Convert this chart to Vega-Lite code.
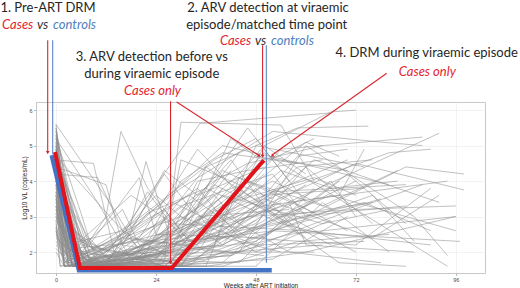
{
"$schema": "https://vega.github.io/schema/vega-lite/v6.json",
"width": 449, "height": 171,
"autosize": "none",
"padding": {"left": 36, "top": 102, "right": 35, "bottom": 15},
"background": "white",
"config": {
  "view": {"stroke": "#c8c8c8", "strokeWidth": 1},
  "axis": {"grid": true, "gridColor": "#ebebeb", "gridWidth": 0.6, "domain": false, "tickColor": "#8a8a8a", "tickSize": 2.5, "tickWidth": 0.6, "labelFont": "Liberation Sans", "labelFontSize": 5.5, "labelColor": "#4d4d4d", "labelPadding": 1.5, "titleFont": "Liberation Sans", "titleFontSize": 6.5, "titleFontWeight": "normal", "titleColor": "#222222"}
},
"resolve": {"scale": {"color": "independent"}},
"datasets": {
"traj": [
{"id":1,"w":0,"v":5.6},{"id":1,"w":3,"v":2.4},{"id":1,"w":10,"v":1.6},{"id":1,"w":30,"v":3.3},{"id":1,"w":52,"v":4.2},{"id":1,"w":60,"v":3.0},
{"id":2,"w":0,"v":5.3},{"id":2,"w":5,"v":1.7},{"id":2,"w":24,"v":1.6},{"id":2,"w":40,"v":4.3},{"id":2,"w":62,"v":3.1},
{"id":3,"w":0,"v":5.0},{"id":3,"w":2,"v":2.9},{"id":3,"w":8,"v":1.6},{"id":3,"w":36,"v":2.9},{"id":3,"w":70,"v":4.6},
{"id":4,"w":0,"v":4.6},{"id":4,"w":9,"v":4.5},{"id":4,"w":14,"v":2.0},{"id":4,"w":26,"v":1.6},{"id":4,"w":48,"v":3.8},{"id":4,"w":58,"v":2.6},
{"id":5,"w":0,"v":4.5},{"id":5,"w":5,"v":1.8},{"id":5,"w":20,"v":2.4},{"id":5,"w":34,"v":4.9},{"id":5,"w":45,"v":3.5},{"id":5,"w":66,"v":2.2},
{"id":6,"w":0,"v":4.2},{"id":6,"w":4,"v":1.6},{"id":6,"w":12,"v":3.0},{"id":6,"w":15.6,"v":5.4},{"id":6,"w":22,"v":3.8},{"id":6,"w":30,"v":2.6},{"id":6,"w":40,"v":3.4},
{"id":7,"w":0,"v":4.1},{"id":7,"w":6,"v":1.9},{"id":7,"w":18,"v":2.8},{"id":7,"w":21.6,"v":4.55},{"id":7,"w":28,"v":2.2},{"id":7,"w":44,"v":3.1},
{"id":8,"w":0,"v":3.9},{"id":8,"w":3,"v":1.6},{"id":8,"w":26,"v":1.7},{"id":8,"w":30,"v":5.66},{"id":8,"w":54,"v":5.58},{"id":8,"w":62,"v":4.0},
{"id":9,"w":0,"v":3.7},{"id":9,"w":5,"v":2.0},{"id":9,"w":10,"v":1.6},{"id":9,"w":34.6,"v":5.63},{"id":9,"w":65.8,"v":5.92},
{"id":10,"w":0,"v":3.5},{"id":10,"w":2,"v":1.7},{"id":10,"w":18,"v":2.6},{"id":10,"w":40,"v":5.0},{"id":10,"w":55,"v":4.6},{"id":10,"w":80,"v":3.9},
{"id":11,"w":0,"v":5.4},{"id":11,"w":4,"v":3.0},{"id":11,"w":8,"v":1.8},{"id":11,"w":40,"v":2.2},{"id":11,"w":58,"v":4.7},{"id":11,"w":70,"v":4.9},
{"id":12,"w":0,"v":4.8},{"id":12,"w":6,"v":2.3},{"id":12,"w":16,"v":1.6},{"id":12,"w":44,"v":3.6},{"id":12,"w":50,"v":5.0},{"id":12,"w":60,"v":4.2},
{"id":13,"w":0,"v":4.4},{"id":13,"w":2,"v":2.0},{"id":13,"w":12,"v":1.6},{"id":13,"w":22,"v":3.7},{"id":13,"w":32,"v":2.1},{"id":13,"w":50,"v":1.9},
{"id":14,"w":0,"v":3.2},{"id":14,"w":4,"v":1.6},{"id":14,"w":30,"v":1.6},{"id":14,"w":48,"v":4.4},{"id":14,"w":62,"v":5.2},
{"id":15,"w":0,"v":3.0},{"id":15,"w":3,"v":1.8},{"id":15,"w":24,"v":2.0},{"id":15,"w":38,"v":3.9},{"id":15,"w":54,"v":3.0},{"id":15,"w":76,"v":3.4},
{"id":16,"w":0,"v":2.8},{"id":16,"w":2,"v":1.6},{"id":16,"w":18,"v":1.7},{"id":16,"w":36,"v":4.4},{"id":16,"w":46,"v":3.6},{"id":16,"w":72,"v":2.0},
{"id":17,"w":0,"v":2.5},{"id":17,"w":4,"v":1.6},{"id":17,"w":20,"v":1.6},{"id":17,"w":28,"v":3.4},{"id":17,"w":42,"v":2.6},{"id":17,"w":60,"v":3.9},
{"id":18,"w":0,"v":2.2},{"id":18,"w":6,"v":1.6},{"id":18,"w":32,"v":1.7},{"id":18,"w":52,"v":3.2},{"id":18,"w":92,"v":5.35},
{"id":19,"w":0,"v":5.1},{"id":19,"w":3,"v":2.5},{"id":19,"w":14,"v":1.8},{"id":19,"w":26,"v":4.2},{"id":19,"w":33,"v":3.1},{"id":19,"w":44,"v":4.8},
{"id":20,"w":0,"v":4.7},{"id":20,"w":8,"v":2.2},{"id":20,"w":20,"v":4.1},{"id":20,"w":24,"v":2.5},{"id":20,"w":50,"v":2.4},{"id":20,"w":68,"v":4.0},
{"id":21,"w":0,"v":4.3},{"id":21,"w":1.5,"v":2.2},{"id":21,"w":10,"v":1.6},{"id":21,"w":32,"v":2.8},{"id":21,"w":42,"v":5.2},{"id":21,"w":48,"v":4.7},{"id":21,"w":70,"v":4.3},
{"id":22,"w":0,"v":4.0},{"id":22,"w":5,"v":1.7},{"id":22,"w":22,"v":1.8},{"id":22,"w":40,"v":3.0},{"id":22,"w":54,"v":4.9},{"id":22,"w":88,"v":5.24},
{"id":23,"w":0,"v":3.6},{"id":23,"w":3,"v":2.1},{"id":23,"w":14,"v":1.6},{"id":23,"w":46,"v":4.0},{"id":23,"w":64,"v":3.3},{"id":23,"w":82,"v":4.3},
{"id":24,"w":0,"v":3.3},{"id":24,"w":2,"v":1.6},{"id":24,"w":26,"v":2.2},{"id":24,"w":30,"v":4.6},{"id":24,"w":52,"v":3.5},
{"id":25,"w":0,"v":5.5},{"id":25,"w":5,"v":2.0},{"id":25,"w":9,"v":1.6},{"id":25,"w":28,"v":2.0},{"id":25,"w":36,"v":4.4},{"id":25,"w":58,"v":5.5},{"id":25,"w":75,"v":5.55},
{"id":26,"w":0,"v":4.9},{"id":26,"w":4,"v":2.6},{"id":26,"w":12,"v":2.0},{"id":26,"w":24,"v":3.6},{"id":26,"w":30,"v":3.0},{"id":26,"w":48,"v":2.2},{"id":26,"w":74,"v":2.3},
{"id":27,"w":0,"v":4.5},{"id":27,"w":7,"v":1.6},{"id":27,"w":30,"v":1.6},{"id":27,"w":38,"v":3.2},{"id":27,"w":56,"v":2.0},{"id":27,"w":78,"v":1.7},
{"id":28,"w":0,"v":4.2},{"id":28,"w":2,"v":1.9},{"id":28,"w":18,"v":3.6},{"id":28,"w":28,"v":2.8},{"id":28,"w":60,"v":2.6},{"id":28,"w":90,"v":2.2},
{"id":29,"w":0,"v":3.8},{"id":29,"w":6,"v":2.8},{"id":29,"w":11,"v":1.6},{"id":29,"w":44,"v":2.5},{"id":29,"w":66,"v":3.6},{"id":29,"w":96,"v":2.6},
{"id":30,"w":0,"v":3.4},{"id":30,"w":4,"v":2.0},{"id":30,"w":20,"v":1.8},{"id":30,"w":48,"v":2.8},{"id":30,"w":60,"v":4.4},{"id":30,"w":76,"v":2.8},
{"id":31,"w":0,"v":2.9},{"id":31,"w":1,"v":1.6},{"id":31,"w":14,"v":2.2},{"id":31,"w":22,"v":1.6},{"id":31,"w":40,"v":3.6},{"id":31,"w":64,"v":2.8},{"id":31,"w":80,"v":3.2},
{"id":32,"w":0,"v":5.2},{"id":32,"w":2,"v":3.5},{"id":32,"w":7,"v":1.6},{"id":32,"w":34,"v":3.8},{"id":32,"w":44,"v":2.4},{"id":32,"w":72,"v":4.0},
{"id":33,"w":0,"v":4.6},{"id":33,"w":5,"v":2.4},{"id":33,"w":15,"v":1.9},{"id":33,"w":36,"v":3.0},{"id":33,"w":52,"v":4.0},{"id":33,"w":66,"v":3.2},
{"id":34,"w":0,"v":4.4},{"id":34,"w":3,"v":1.6},{"id":34,"w":24,"v":2.3},{"id":34,"w":42,"v":4.6},{"id":34,"w":50,"v":3.3},{"id":34,"w":68,"v":3.6},{"id":34,"w":74,"v":4.9},
{"id":35,"w":0,"v":4.1},{"id":35,"w":8,"v":2.0},{"id":35,"w":28,"v":2.6},{"id":35,"w":34,"v":4.0},{"id":35,"w":46,"v":4.3},{"id":35,"w":64,"v":4.6},
{"id":36,"w":0,"v":3.9},{"id":36,"w":2,"v":1.7},{"id":36,"w":16,"v":3.2},{"id":36,"w":20,"v":2.2},{"id":36,"w":38,"v":2.4},{"id":36,"w":52,"v":3.7},{"id":36,"w":84,"v":3.9},
{"id":37,"w":0,"v":3.6},{"id":37,"w":4,"v":1.6},{"id":37,"w":40,"v":1.7},{"id":37,"w":56,"v":3.4},{"id":37,"w":60,"v":2.2},{"id":37,"w":86,"v":2.0},
{"id":38,"w":0,"v":3.1},{"id":38,"w":3,"v":2.3},{"id":38,"w":10,"v":1.6},{"id":38,"w":48,"v":3.2},{"id":38,"w":72,"v":4.5},{"id":38,"w":98,"v":3.75},
{"id":39,"w":0,"v":2.6},{"id":39,"w":2,"v":1.6},{"id":39,"w":34,"v":2.0},{"id":39,"w":42,"v":3.4},{"id":39,"w":62,"v":4.1},{"id":39,"w":72,"v":3.6},
{"id":40,"w":0,"v":2.3},{"id":40,"w":5,"v":1.6},{"id":40,"w":36,"v":1.6},{"id":40,"w":48,"v":5.0},{"id":40,"w":74,"v":4.4},
{"id":41,"w":0,"v":5.0},{"id":41,"w":6,"v":2.0},{"id":41,"w":12,"v":1.6},{"id":41,"w":26,"v":2.6},{"id":41,"w":38,"v":3.6},{"id":41,"w":44,"v":2.8},{"id":41,"w":54,"v":3.4},
{"id":42,"w":0,"v":4.7},{"id":42,"w":4,"v":2.1},{"id":42,"w":30,"v":2.4},{"id":42,"w":50,"v":4.8},{"id":42,"w":94,"v":1.6},
{"id":43,"w":0,"v":4.3},{"id":43,"w":3,"v":1.7},{"id":43,"w":18,"v":1.6},{"id":43,"w":32,"v":3.4},{"id":43,"w":36,"v":2.8},{"id":43,"w":60,"v":5.1},{"id":43,"w":68,"v":4.7},
{"id":44,"w":0,"v":3.7},{"id":44,"w":9,"v":1.6},{"id":44,"w":42,"v":1.9},{"id":44,"w":58,"v":3.0},{"id":44,"w":84,"v":3.3},
{"id":45,"w":0,"v":3.0},{"id":45,"w":4,"v":1.9},{"id":45,"w":30,"v":3.0},{"id":45,"w":40,"v":2.2},{"id":45,"w":62,"v":3.5},{"id":45,"w":94,"v":4.0},
{"id":46,"w":0,"v":5.3},{"id":46,"w":3,"v":2.8},{"id":46,"w":12,"v":1.7},{"id":46,"w":20,"v":3.0},{"id":46,"w":26,"v":4.3},{"id":46,"w":34,"v":3.6},{"id":46,"w":50,"v":4.4},
{"id":47,"w":0,"v":4.8},{"id":47,"w":2,"v":2.4},{"id":47,"w":9,"v":1.6},{"id":47,"w":24,"v":1.8},{"id":47,"w":46,"v":5.5},{"id":47,"w":56,"v":4.0},
{"id":48,"w":0,"v":4.0},{"id":48,"w":5,"v":1.6},{"id":48,"w":38,"v":2.2},{"id":48,"w":44,"v":4.1},{"id":48,"w":54,"v":3.6},{"id":48,"w":70,"v":2.6},
{"id":49,"w":0,"v":3.5},{"id":49,"w":7,"v":1.7},{"id":49,"w":26,"v":3.2},{"id":49,"w":32,"v":2.3},{"id":49,"w":52,"v":2.6},{"id":49,"w":78,"v":3.5},
{"id":50,"w":0,"v":2.7},{"id":50,"w":1,"v":1.6},{"id":50,"w":24,"v":1.9},{"id":50,"w":44,"v":3.8},{"id":50,"w":60,"v":2.4},
{"id":51,"w":0,"v":2.4},{"id":51,"w":8,"v":1.6},{"id":51,"w":40,"v":1.6},{"id":51,"w":58,"v":2.3},{"id":51,"w":80,"v":2.5},
{"id":52,"w":0,"v":3.3},{"id":52,"w":4,"v":1.6},{"id":52,"w":16,"v":2.0},{"id":52,"w":26,"v":1.6},{"id":52,"w":52,"v":1.8},{"id":52,"w":70,"v":3.0},
{"id":53,"w":0,"v":4.5},{"id":53,"w":3,"v":2.2},{"id":53,"w":6,"v":1.6},{"id":53,"w":18,"v":2.4},{"id":53,"w":42,"v":2.0},{"id":53,"w":64,"v":2.2},
{"id":54,"w":0,"v":2.0},{"id":54,"w":2,"v":1.6},{"id":54,"w":12,"v":1.8},{"id":54,"w":28,"v":1.6},{"id":54,"w":56,"v":2.5},{"id":54,"w":96,"v":3.0},
{"id":55,"w":0,"v":4.9},{"id":55,"w":5,"v":1.6},{"id":55,"w":48,"v":1.6},{"id":55,"w":64,"v":3.4},{"id":55,"w":80,"v":2.0},
{"id":56,"w":0,"v":4.2},{"id":56,"w":6,"v":1.6},{"id":56,"w":44,"v":2.0},{"id":56,"w":60,"v":5.0},{"id":56,"w":86,"v":3.0},{"id":56,"w":94,"v":1.9},
{"id":57,"w":0,"v":3.8},{"id":57,"w":4,"v":1.6},{"id":57,"w":36,"v":2.0},{"id":57,"w":62,"v":4.6},{"id":57,"w":92,"v":3.4},
{"id":58,"w":0,"v":5.1},{"id":58,"w":3,"v":2.1},{"id":58,"w":20,"v":1.7},{"id":58,"w":44,"v":4.2},{"id":58,"w":50,"v":5.0},{"id":58,"w":66,"v":5.95},{"id":58,"w":72,"v":6.0},
{"id":59,"w":0,"v":4.6},{"id":59,"w":8,"v":1.8},{"id":59,"w":30,"v":3.8},{"id":59,"w":52,"v":5.4},{"id":59,"w":78,"v":5.1},{"id":59,"w":88,"v":5.0},
{"id":60,"w":0,"v":3.4},{"id":60,"w":5,"v":1.6},{"id":60,"w":34,"v":2.4},{"id":60,"w":56,"v":3.8},{"id":60,"w":80,"v":4.8},{"id":60,"w":90,"v":4.9},
{"id":61,"w":0,"v":4.0},{"id":61,"w":3,"v":1.7},{"id":61,"w":28,"v":2.2},{"id":61,"w":60,"v":3.0},{"id":61,"w":84,"v":4.4},{"id":61,"w":98,"v":4.2},
{"id":62,"w":0,"v":2.9},{"id":62,"w":6,"v":1.6},{"id":62,"w":48,"v":2.3},{"id":62,"w":70,"v":4.2},{"id":62,"w":84,"v":2.8},
{"id":63,"w":0,"v":3.6},{"id":63,"w":2,"v":1.6},{"id":63,"w":22,"v":2.2},{"id":63,"w":50,"v":3.5},{"id":63,"w":76,"v":2.4},{"id":63,"w":92,"v":3.6},
{"id":64,"w":0,"v":4.4},{"id":64,"w":4,"v":1.8},{"id":64,"w":26,"v":1.6},{"id":64,"w":54,"v":4.3},{"id":64,"w":66,"v":3.8},{"id":64,"w":82,"v":4.0},
{"id":65,"w":0,"v":5.4},{"id":65,"w":6,"v":2.2},{"id":65,"w":20,"v":1.9},{"id":65,"w":46,"v":3.0},{"id":65,"w":72,"v":3.2},{"id":65,"w":96,"v":3.3},
{"id":66,"w":0,"v":3.2},{"id":66,"w":4,"v":1.6},{"id":66,"w":36,"v":1.8},{"id":66,"w":52,"v":2.6},{"id":66,"w":76,"v":3.6},{"id":66,"w":86,"v":2.3},
{"id":67,"w":0,"v":4.8},{"id":67,"w":2,"v":2.2},{"id":67,"w":16,"v":2.6},{"id":67,"w":38,"v":4.6},{"id":67,"w":48,"v":5.2},{"id":67,"w":60,"v":3.4},
{"id":68,"w":0,"v":2.6},{"id":68,"w":3,"v":1.6},{"id":68,"w":40,"v":2.2},{"id":68,"w":66,"v":4.0},{"id":68,"w":72,"v":3.0},
{"id":69,"w":0,"v":3.9},{"id":69,"w":5,"v":1.8},{"id":69,"w":32,"v":3.6},{"id":69,"w":46,"v":2.4},{"id":69,"w":72,"v":2.2},{"id":69,"w":90,"v":3.8},
{"id":70,"w":0,"v":4.3},{"id":70,"w":1,"v":2.8},{"id":70,"w":7,"v":1.6},{"id":70,"w":20,"v":2.0},{"id":70,"w":30,"v":4.0},{"id":70,"w":40,"v":4.8},{"id":70,"w":58,"v":4.5},
{"id":71,"w":0,"v":5.5},{"id":71,"w":2,"v":3.0},{"id":71,"w":6,"v":1.6},{"id":71,"w":22,"v":1.7},{"id":71,"w":34,"v":2.6},{"id":71,"w":54,"v":2.0},
{"id":72,"w":0,"v":5.0},{"id":72,"w":1,"v":3.4},{"id":72,"w":4,"v":1.6},{"id":72,"w":14,"v":1.6},{"id":72,"w":36,"v":3.4},{"id":72,"w":42,"v":4.3},
{"id":73,"w":0,"v":4.1},{"id":73,"w":2,"v":2.4},{"id":73,"w":5,"v":1.6},{"id":73,"w":26,"v":2.9},{"id":73,"w":36,"v":2.0},{"id":73,"w":62,"v":2.0},
{"id":74,"w":0,"v":3.7},{"id":74,"w":1,"v":2.0},{"id":74,"w":3,"v":1.6},{"id":74,"w":16,"v":2.4},{"id":74,"w":30,"v":2.2},{"id":74,"w":50,"v":4.2},
{"id":75,"w":0,"v":3.1},{"id":75,"w":2,"v":1.7},{"id":75,"w":10,"v":2.1},{"id":75,"w":32,"v":1.6},{"id":75,"w":44,"v":2.9},{"id":75,"w":60,"v":3.5},
{"id":76,"w":0,"v":4.6},{"id":76,"w":4,"v":3.4},{"id":76,"w":8,"v":2.0},{"id":76,"w":12,"v":1.6},{"id":76,"w":38,"v":4.0},{"id":76,"w":46,"v":4.5},{"id":76,"w":64,"v":5.0},
{"id":77,"w":0,"v":5.2},{"id":77,"w":6,"v":3.1},{"id":77,"w":10,"v":1.6},{"id":77,"w":42,"v":3.0},{"id":77,"w":50,"v":3.6},{"id":77,"w":74,"v":3.8},
{"id":78,"w":0,"v":4.9},{"id":78,"w":3,"v":2.0},{"id":78,"w":8,"v":2.4},{"id":78,"w":14,"v":1.6},{"id":78,"w":40,"v":2.6},{"id":78,"w":48,"v":2.0},{"id":78,"w":66,"v":2.9},
{"id":79,"w":0,"v":2.1},{"id":79,"w":4,"v":1.6},{"id":79,"w":26,"v":1.8},{"id":79,"w":34,"v":3.0},{"id":79,"w":56,"v":3.2},
{"id":80,"w":0,"v":3.3},{"id":80,"w":3,"v":1.9},{"id":80,"w":12,"v":1.7},{"id":80,"w":22,"v":3.1},{"id":80,"w":36,"v":3.8},{"id":80,"w":54,"v":2.8},{"id":80,"w":68,"v":2.4},
{"id":81,"w":0,"v":5.6},{"id":81,"w":14,"v":3.2},{"id":81,"w":20,"v":2.0},{"id":81,"w":30,"v":1.6},{"id":81,"w":50,"v":2.2},
{"id":82,"w":0,"v":5.2},{"id":82,"w":10,"v":3.4},{"id":82,"w":18,"v":1.8},{"id":82,"w":44,"v":1.7},{"id":82,"w":62,"v":3.8},
{"id":83,"w":0,"v":4.7},{"id":83,"w":16,"v":2.6},{"id":83,"w":24,"v":1.6},{"id":83,"w":46,"v":3.0},{"id":83,"w":58,"v":4.4},{"id":83,"w":76,"v":4.6},
{"id":84,"w":0,"v":4.4},{"id":84,"w":12,"v":3.9},{"id":84,"w":16,"v":2.2},{"id":84,"w":32,"v":1.9},{"id":84,"w":48,"v":2.9},
{"id":85,"w":0,"v":4.2},{"id":85,"w":10,"v":4.1},{"id":85,"w":16,"v":2.6},{"id":85,"w":28,"v":1.8},{"id":85,"w":40,"v":3.8},
{"id":86,"w":0,"v":3.5},{"id":86,"w":3,"v":1.6},{"id":86,"w":30,"v":1.7},{"id":86,"w":52,"v":2.6},{"id":86,"w":97,"v":2.3},
{"id":87,"w":0,"v":2.7},{"id":87,"w":4,"v":1.6},{"id":87,"w":36,"v":1.6},{"id":87,"w":60,"v":2.0},{"id":87,"w":96,"v":3.0},
{"id":88,"w":0,"v":4.0},{"id":88,"w":6,"v":1.7},{"id":88,"w":40,"v":2.4},{"id":88,"w":74,"v":3.4},{"id":88,"w":90,"v":2.6},
{"id":89,"w":0,"v":4.5},{"id":89,"w":2,"v":1.6},{"id":89,"w":28,"v":2.0},{"id":89,"w":50,"v":3.2},{"id":89,"w":68,"v":1.7},{"id":89,"w":84,"v":1.6},
{"id":90,"w":0,"v":3.0},{"id":90,"w":5,"v":1.6},{"id":90,"w":42,"v":1.9},{"id":90,"w":62,"v":2.8},{"id":90,"w":88,"v":3.9}
],
"thick": [
{"s":"blue","w":-1.03,"v":4.73},{"s":"blue","w":5.5,"v":1.49},{"s":"blue","w":51.8,"v":1.49},
{"s":"red","w":-0.24,"v":4.82},{"s":"red","w":5.76,"v":1.55},{"s":"red","w":27.8,"v":1.55},{"s":"red","w":49.9,"v":4.59}
],
"guides": [
{"c":"red","w":-1.99,"v":7.97,"w2":-1.99,"v2":4.85},
{"c":"blue","w":-0.79,"v":7.97,"w2":-0.79,"v2":4.75},
{"c":"red","w":27.5,"v":6.25,"w2":27.5,"v2":1.74},
{"c":"red","w":28.97,"v":6.23,"w2":48.9,"v2":4.71},
{"c":"red","w":49.6,"v":7.83,"w2":49.6,"v2":4.74},
{"c":"blue","w":50.5,"v":7.83,"w2":50.5,"v2":1.7},
{"c":"red","w":79.4,"v":7.04,"w2":51.8,"v2":4.73}
],
"heads": [
{"t":"1. Pre-ART DRM","w":-1.92,"v":8.87},
{"t":"2. ARV detection at viraemic","w":50.9,"v":8.87},
{"t":"episode/matched time point","w":50.6,"v":8.41},
{"t":"3. ARV detection before vs","w":23.0,"v":7.49},
{"t":"during viraemic episode","w":23.0,"v":7.01},
{"t":"4. DRM during viraemic episode","w":89.0,"v":7.61}
],
"labs": [
{"t":"Cases","k":"case","w":-12.96,"v":8.41},
{"t":"vs","k":"vs","w":-4.56,"v":8.41},
{"t":"controls","k":"ctrl","w":-0.72,"v":8.41},
{"t":"Cases","k":"case","w":39.36,"v":7.95},
{"t":"vs","k":"vs","w":47.76,"v":7.95},
{"t":"controls","k":"ctrl","w":51.6,"v":7.95},
{"t":"Cases only","k":"case","w":16.32,"v":6.54},
{"t":"Cases only","k":"case","w":82.3,"v":7.07}
],
"arrDown": [
{"w":-1.99,"v":4.8},{"w":27.5,"v":1.7},{"w":49.6,"v":4.7}
],
"arrL3": [{"w":48.7,"v":4.72}],
"arrL4": [{"w":52.0,"v":4.72}]
},
"layer": [
{
  "data": {"name": "traj"},
  "mark": {"type": "line", "color": "#8c8c8c", "strokeWidth": 0.6, "opacity": 0.9},
  "encoding": {
    "x": {"field": "w", "type": "quantitative", "scale": {"domain": [-4.8, 103], "nice": false, "zero": false},
          "axis": {"values": [0, 24, 48, 72, 96], "title": "Weeks after ART initiation", "titleBaseline": "alphabetic", "titleY": 14}},
    "y": {"field": "v", "type": "quantitative", "scale": {"domain": [1.41, 6.23], "nice": false, "zero": false},
          "axis": {"values": [2, 3, 4, 5, 6], "title": "Log10 VL (copies/mL)", "titlePadding": 1}},
    "detail": {"field": "id", "type": "nominal"}
  }
},
{
  "data": {"name": "thick"},
  "transform": [{"filter": "datum.s === 'blue'"}],
  "mark": {"type": "line", "color": "#4472c4", "strokeWidth": 4.5, "strokeJoin": "miter"},
  "encoding": {"x": {"field": "w", "type": "quantitative"}, "y": {"field": "v", "type": "quantitative"}}
},
{
  "data": {"name": "thick"},
  "transform": [{"filter": "datum.s === 'red'"}],
  "mark": {"type": "line", "color": "#e3131b", "strokeWidth": 4, "strokeJoin": "miter"},
  "encoding": {"x": {"field": "w", "type": "quantitative"}, "y": {"field": "v", "type": "quantitative"}}
},
{
  "data": {"name": "guides"},
  "mark": {"type": "rule", "strokeWidth": 1.1},
  "encoding": {
    "x": {"field": "w", "type": "quantitative"}, "y": {"field": "v", "type": "quantitative"},
    "x2": {"field": "w2"}, "y2": {"field": "v2"},
    "color": {"field": "c", "type": "nominal", "scale": {"domain": ["red", "blue"], "range": ["#d9262e", "#5b86c5"]}, "legend": null}
  }
},
{
  "data": {"name": "arrDown"},
  "mark": {"type": "point", "shape": "triangle-down", "filled": true, "size": 14, "color": "#d9262e", "opacity": 1},
  "encoding": {"x": {"field": "w", "type": "quantitative"}, "y": {"field": "v", "type": "quantitative"}}
},
{
  "data": {"name": "arrL3"},
  "mark": {"type": "point", "shape": "triangle", "angle": 124, "filled": true, "size": 14, "color": "#d9262e", "opacity": 1},
  "encoding": {"x": {"field": "w", "type": "quantitative"}, "y": {"field": "v", "type": "quantitative"}}
},
{
  "data": {"name": "arrL4"},
  "mark": {"type": "point", "shape": "triangle", "angle": 234, "filled": true, "size": 14, "color": "#d9262e", "opacity": 1},
  "encoding": {"x": {"field": "w", "type": "quantitative"}, "y": {"field": "v", "type": "quantitative"}}
},
{
  "data": {"name": "heads"},
  "mark": {"type": "text", "font": "Lato", "fontSize": 13, "color": "#262626", "align": "center", "baseline": "middle"},
  "encoding": {"x": {"field": "w", "type": "quantitative"}, "y": {"field": "v", "type": "quantitative"}, "text": {"field": "t"}}
},
{
  "data": {"name": "labs"},
  "mark": {"type": "text", "font": "Lato", "fontSize": 13, "fontStyle": "italic", "align": "left", "baseline": "middle"},
  "encoding": {"x": {"field": "w", "type": "quantitative"}, "y": {"field": "v", "type": "quantitative"}, "text": {"field": "t"},
    "color": {"field": "k", "type": "nominal", "scale": {"domain": ["case", "vs", "ctrl"], "range": ["#e3262f", "#333333", "#4f81bd"]}, "legend": null}}
}
]
}
